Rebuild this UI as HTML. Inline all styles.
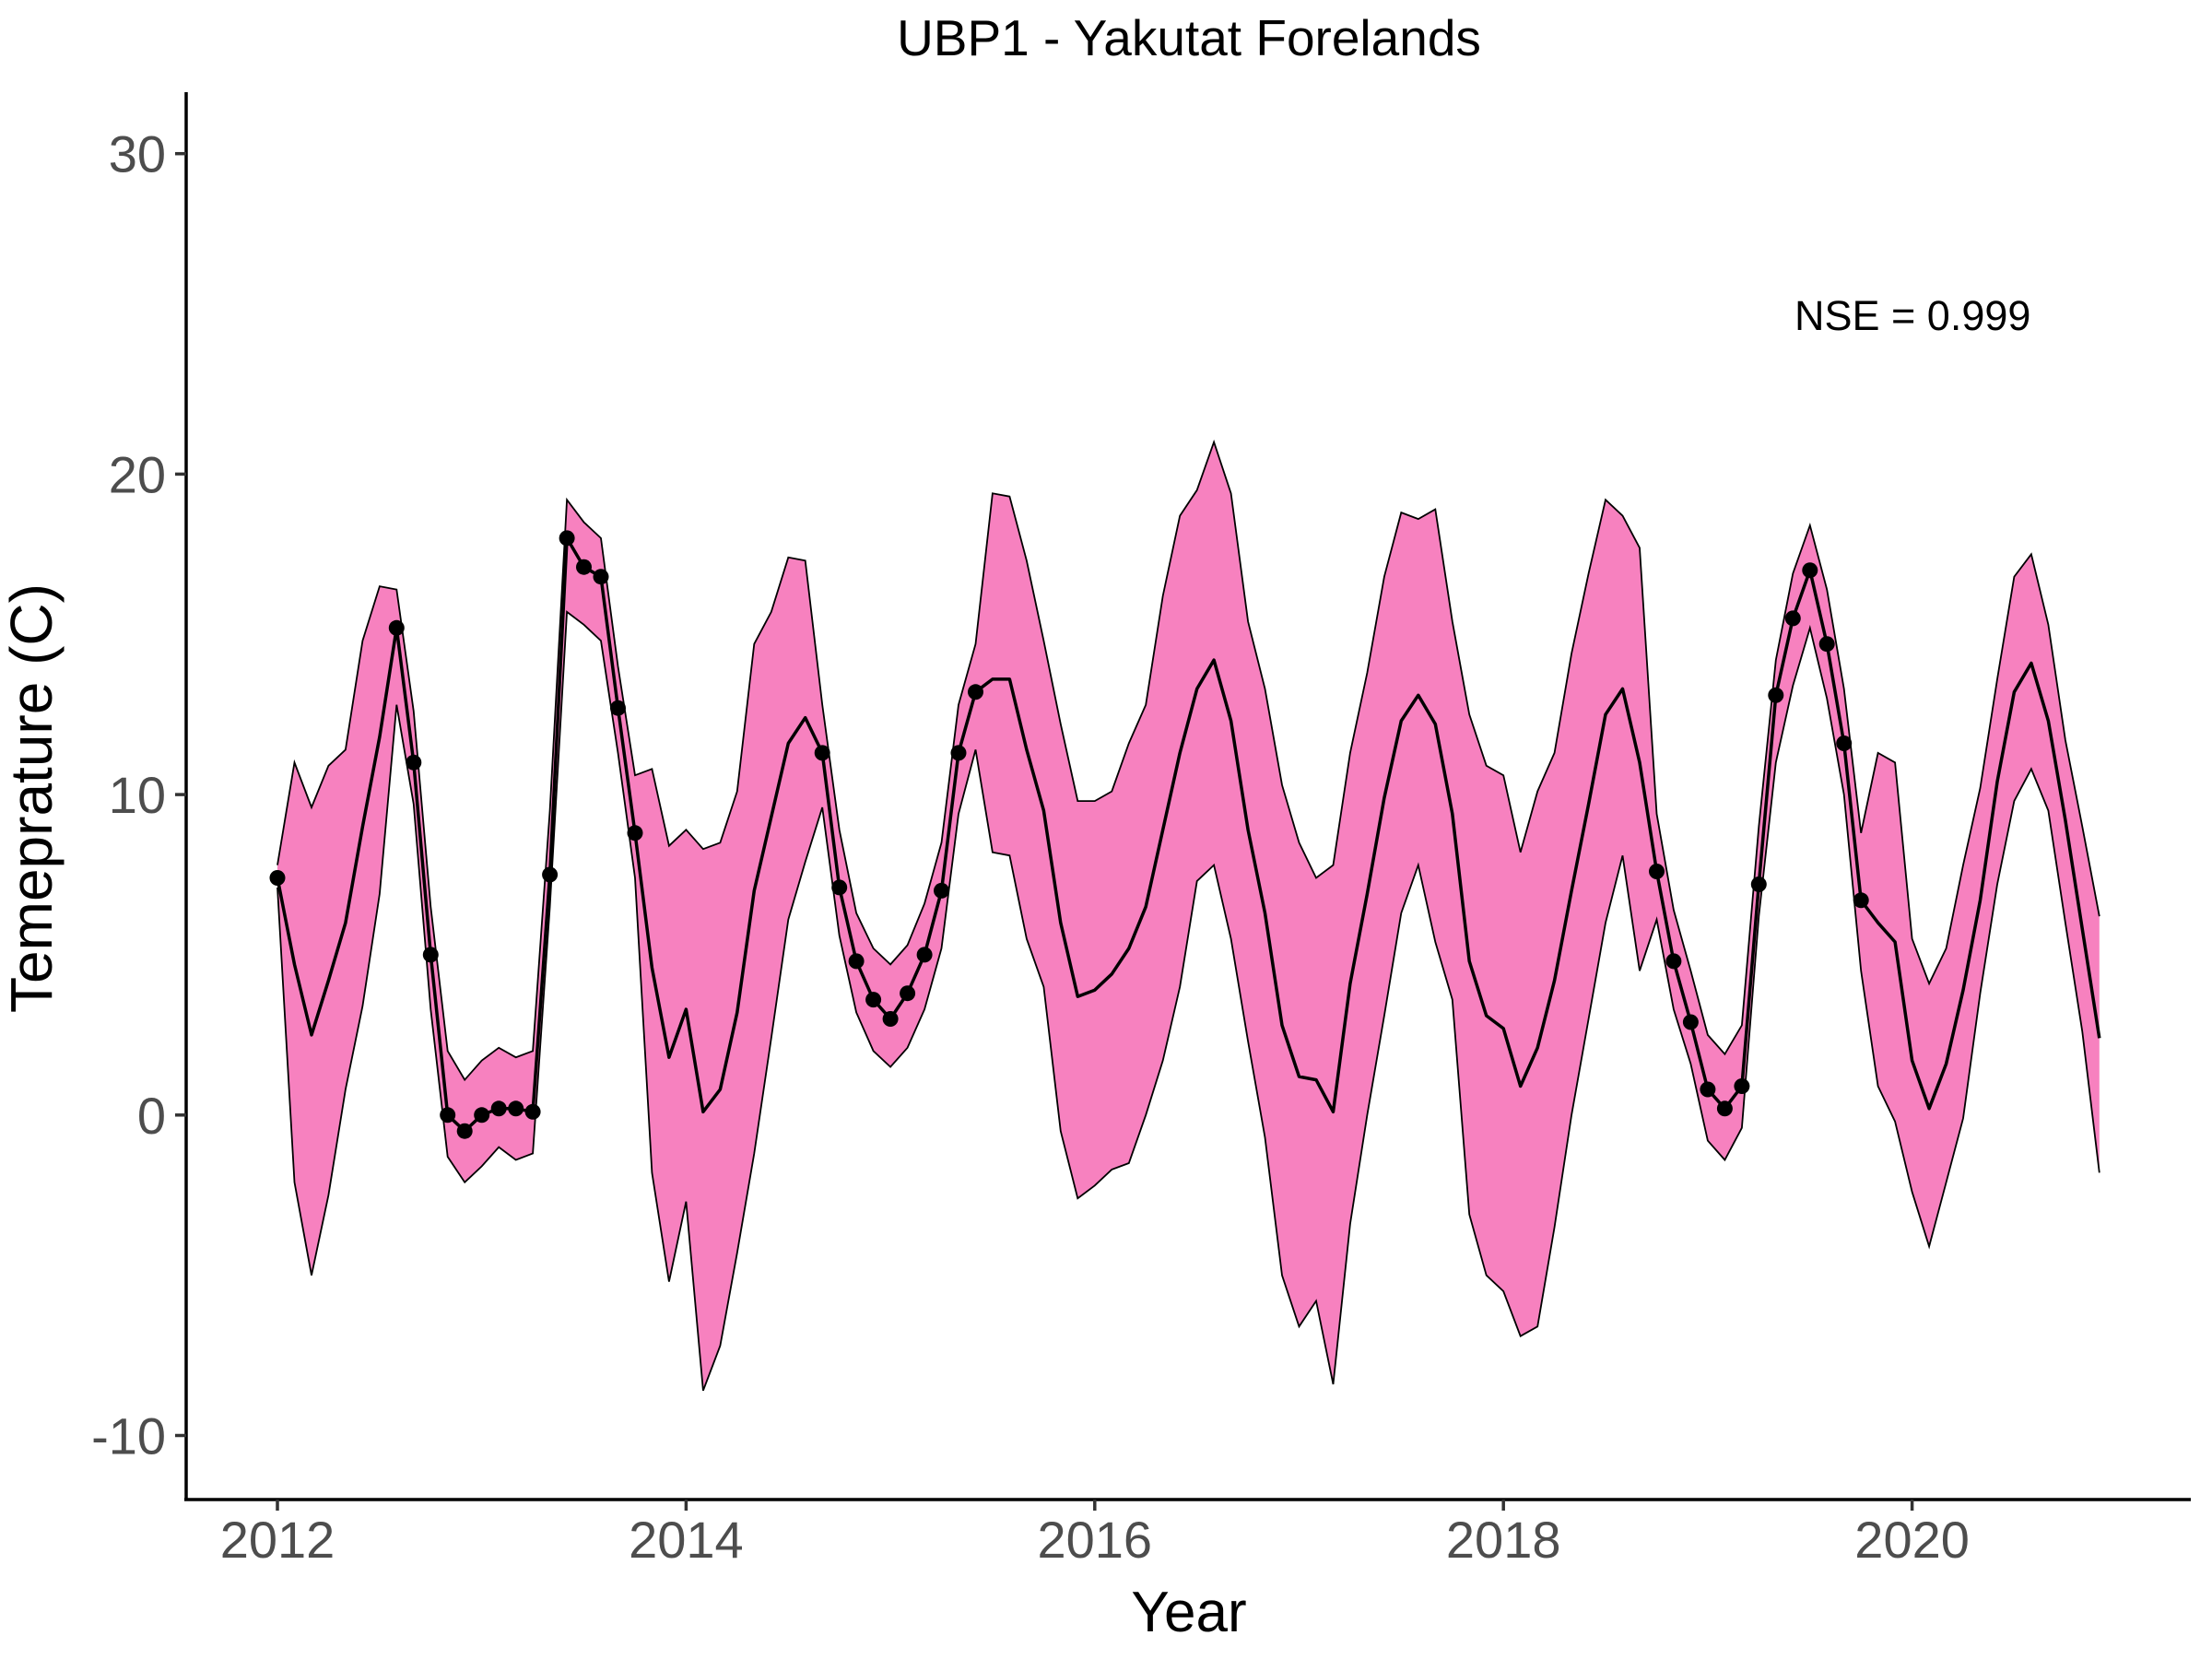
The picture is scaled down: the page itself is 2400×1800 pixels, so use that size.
<!DOCTYPE html>
<html><head><meta charset="utf-8"><style>
body{margin:0;background:#fff}
svg{display:block;font-family:"Liberation Sans",Arial,sans-serif}
</style></head><body>
<svg id="chart" width="2400" height="1800" viewBox="0 0 2400 1800" xmlns="http://www.w3.org/2000/svg">
<rect width="2400" height="1800" fill="#fff"/>
<g id="plot"></g>
<g id="axes"></g>
<text x="1290" y="60" font-size="55" text-anchor="middle" fill="#000">UBP1 - Yakutat Forelands</text>
<text x="1947" y="358" font-size="45" fill="#000">NSE = 0.999</text>
<text x="1290" y="1770" font-size="62" text-anchor="middle" fill="#000">Year</text>
<text transform="translate(56,866) rotate(-90)" font-size="64" text-anchor="middle" fill="#000">Temeprature (C)</text>
</svg>
<script>
const median=[7.4,4.7,2.5,4.2,6.0,9.0,11.8,15.2,11.0,5.0,0.0,-0.5,
0.0,0.2,0.2,0.1,7.5,18.0,17.1,16.8,12.7,8.8,4.6,1.8,
3.3,0.1,0.8,3.2,7.0,9.3,11.6,12.4,11.3,7.1,4.8,3.6,
3.0,3.8,5.0,7.0,11.3,13.2,13.6,13.6,11.4,9.5,6.0,3.7,
3.9,4.4,5.2,6.5,8.9,11.3,13.3,14.2,12.3,8.9,6.3,2.8,
1.2,1.1,0.1,4.1,6.9,9.9,12.3,13.1,12.2,9.4,4.8,3.1,
2.7,0.9,2.1,4.2,7.0,9.7,12.5,13.3,11.0,7.6,4.8,2.9,
0.8,0.2,0.9,7.2,13.1,15.5,17.0,14.7,11.6,6.7,6.0,5.4,
1.7,0.2,1.6,3.9,6.7,10.4,13.2,14.1,12.3,9.2,5.8,2.4];
const upper=[7.8,11.0,9.6,10.9,11.4,14.8,16.5,16.4,12.6,6.5,2.0,1.1,
1.7,2.1,1.8,2.0,9.5,19.2,18.5,18.0,14.0,10.6,10.8,8.4,
8.9,8.3,8.5,10.1,14.7,15.7,17.4,17.3,12.8,8.9,6.3,5.2,
4.7,5.3,6.6,8.5,12.8,14.7,19.4,19.3,17.3,14.8,12.2,9.8,
9.8,10.1,11.6,12.8,16.2,18.7,19.5,21.0,19.4,15.4,13.3,10.3,
8.5,7.4,7.8,11.3,13.8,16.8,18.8,18.6,18.9,15.4,12.5,10.9,
10.6,8.2,10.1,11.3,14.4,16.9,19.2,18.7,17.7,9.4,6.4,4.5,
2.5,1.9,2.8,9.0,14.2,16.9,18.4,16.4,13.3,8.8,11.3,11.0,
5.5,4.1,5.2,7.8,10.2,13.6,16.8,17.5,15.3,11.7,9.0,6.2];
const lower=[7.1,-2.1,-5.0,-2.5,0.8,3.4,6.9,12.8,9.7,3.3,-1.3,-2.1,
-1.6,-1.0,-1.4,-1.2,6.5,15.7,15.3,14.8,11.3,7.4,-1.8,-5.2,
-2.7,-8.6,-7.2,-4.3,-1.2,2.4,6.1,7.9,9.6,5.6,3.2,2.0,
1.5,2.1,3.3,5.2,9.4,11.4,8.2,8.1,5.5,4.0,-0.5,-2.6,
-2.2,-1.7,-1.5,0.0,1.7,4.0,7.3,7.8,5.5,2.3,-0.7,-5.0,
-6.6,-5.8,-8.4,-3.4,0.0,3.1,6.3,7.8,5.4,3.6,-3.1,-5.0,
-5.5,-6.9,-6.6,-3.5,0.0,3.0,6.0,8.1,4.5,6.1,3.3,1.6,
-0.8,-1.4,-0.4,6.2,11.0,13.4,15.2,13.0,10.0,4.5,0.9,-0.2,
-2.4,-4.1,-2.1,-0.1,3.8,7.2,9.8,10.8,9.5,6.0,2.6,-1.8];
const observedIdx=[0,7,8,9,10,11,12,13,14,15,16,17,18,19,20,21,32,33,34,35,36,37,38,39,40,41,81,82,83,84,85,86,87,88,89,90,91,92,93];
const xTicks=[2012,2014,2016,2018,2020];
const yTicks=[-10,0,10,20,30];
const startYear=2012;

const NS="http://www.w3.org/2000/svg";
function xs(year){return 301+(year-2012)*221.7;}
function ys(v){return 1209.8-v*34.77;}
function tOf(i){return startYear+i/12;}
const plot=document.getElementById('plot');
const axes=document.getElementById('axes');
function mk(tag,attrs,parent){const e=document.createElementNS(NS,tag);for(const k in attrs)e.setAttribute(k,attrs[k]);parent.appendChild(e);return e;}

let d='';
upper.forEach((v,i)=>{d+=(i?'L':'M')+xs(tOf(i)).toFixed(1)+','+ys(v).toFixed(1);});
for(let i=lower.length-1;i>=0;i--){d+='L'+xs(tOf(i)).toFixed(1)+','+ys(lower[i]).toFixed(1);}
d+='Z';
const band=mk('path',{d:d,fill:'#F781BF',stroke:'none'},plot);


const up=mk('polyline',{points:upper.map((v,i)=>xs(tOf(i)).toFixed(1)+','+ys(v).toFixed(1)).join(' '),fill:'none',stroke:'#000','stroke-width':1.8},plot);


const lo=mk('polyline',{points:lower.map((v,i)=>xs(tOf(i)).toFixed(1)+','+ys(v).toFixed(1)).join(' '),fill:'none',stroke:'#000','stroke-width':1.8},plot);


const med=mk('polyline',{points:median.map((v,i)=>xs(tOf(i)).toFixed(1)+','+ys(v).toFixed(1)).join(' '),fill:'none',stroke:'#000','stroke-width':3.5,'stroke-linejoin':'round'},plot);


observedIdx.forEach(i=>{
  const c=mk('circle',{cx:xs(tOf(i)).toFixed(1),cy:ys(median[i]).toFixed(1),r:8.5,fill:'#000'},plot);
  
  
});

const ya=mk('line',{x1:202,y1:100,x2:202,y2:1628,stroke:'#000','stroke-width':3.5},axes);


const xa=mk('line',{x1:200,y1:1627,x2:2377,y2:1627,stroke:'#000','stroke-width':3.5},axes);


yTicks.forEach(v=>{
  const y=ys(v);
  const t=mk('line',{x1:190,y1:y,x2:202,y2:y,stroke:'#333','stroke-width':3.5},axes);
  
  
  const l=mk('text',{x:180,y:y+20,'font-size':56,'text-anchor':'end',fill:'#4D4D4D'},axes);
  l.textContent=String(v);
  
  
});
xTicks.forEach(v=>{
  const x=xs(v);
  const t=mk('line',{x1:x,y1:1627,x2:x,y2:1639,stroke:'#333','stroke-width':3.5},axes);
  
  
  const l=mk('text',{x:x,y:1690,'font-size':56,'text-anchor':'middle',fill:'#4D4D4D'},axes);
  l.textContent=String(v);
  
  
});
</script>
</body></html>
